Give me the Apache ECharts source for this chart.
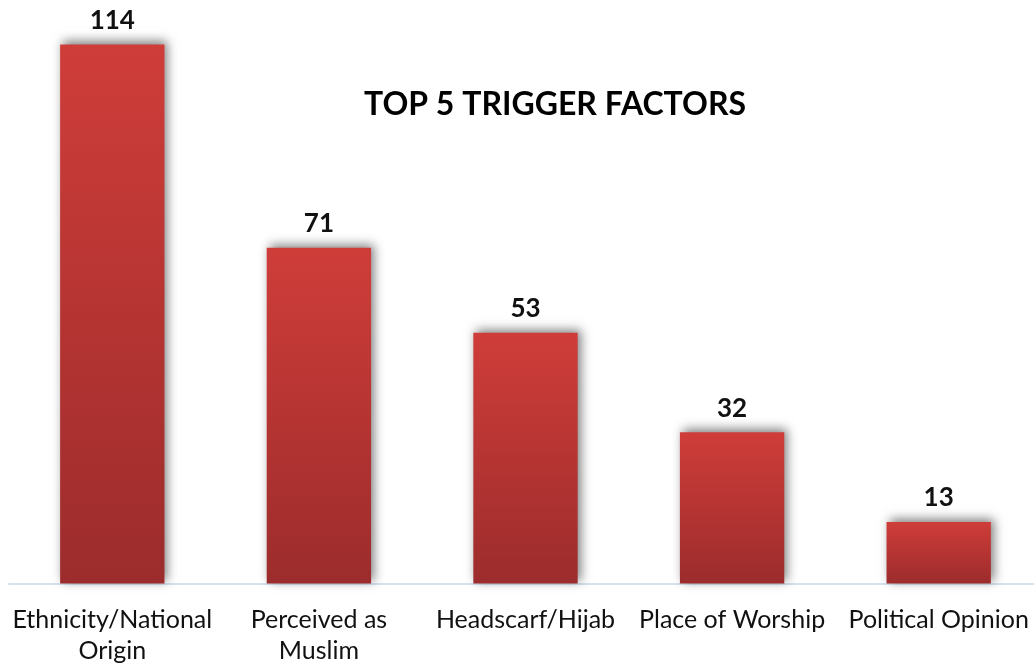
<!DOCTYPE html>
<html>
<head>
<meta charset="utf-8">
<script src="https://cdn.jsdelivr.net/npm/echarts@6/dist/echarts.min.js"></script>
<style>
  html, body { margin: 0; padding: 0; background: #fff; }
  #chart { width: 1034px; height: 667px; }
</style>
</head>
<body>
<div id="chart"></div>
<script>
// Incident counts by trigger factor
const categories = ['Ethnicity/National\nOrigin', 'Perceived as\nMuslim', 'Headscarf/Hijab', 'Place of Worship', 'Political Opinion'];
const counts = [114, 71, 53, 32, 13];
const titleText = 'TOP 5 TRIGGER FACTORS';

const font = 'Lato, "Open Sans", sans-serif';

const chart = echarts.init(document.getElementById('chart'));
chart.setOption({
  animation: false,
  backgroundColor: '#ffffff',
  title: {
    text: titleText,
    left: 550,
    top: 84,
    textAlign: 'center',
    textStyle: { fontFamily: font, fontWeight: 'bold', fontSize: 32, color: '#000' }
  },
  grid: { left: 9, top: 16, width: 1033, height: 567.5, outerBoundsMode: 'none', containLabel: false },
  xAxis: {
    type: 'category',
    data: categories,
    axisLine: { lineStyle: { color: '#d6e1ef', width: 2 } },
    axisTick: { show: false },
    axisLabel: {
      interval: 0,
      margin: 21,
      fontFamily: font,
      fontSize: 25,
      lineHeight: 31,
      color: '#111'
    }
  },
  yAxis: {
    type: 'value',
    min: 0,
    max: 120,
    show: false,
    splitLine: { show: false }
  },
  series: [{
    type: 'bar',
    data: counts,
    barWidth: '50.5%',
    itemStyle: {
      color: new echarts.graphic.LinearGradient(0, 0, 0, 1, [
        { offset: 0, color: '#cf3d39' },
        { offset: 1, color: '#9c2c2c' }
      ]),
      shadowColor: 'rgba(0,0,0,0.5)',
      shadowBlur: 10,
      shadowOffsetX: 3,
      shadowOffsetY: -3
    },
    label: {
      show: true,
      position: 'top',
      distance: 11,
      fontFamily: font,
      fontWeight: 'bold',
      fontSize: 26,
      color: '#111'
    }
  }]
});
</script>
</body>
</html>
